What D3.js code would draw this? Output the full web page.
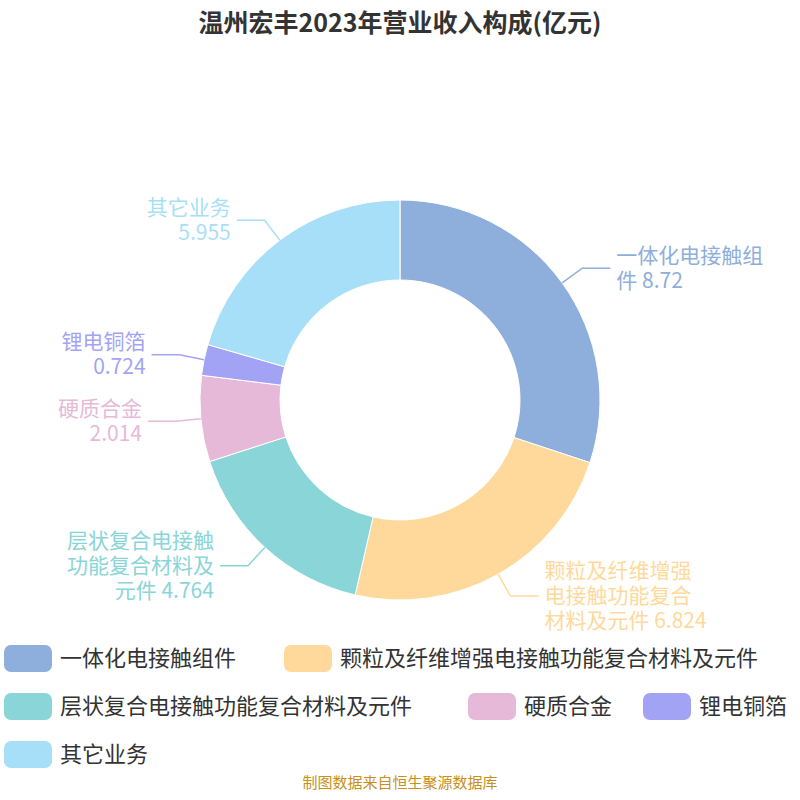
<!DOCTYPE html>
<html><head><meta charset="utf-8">
<script src="https://cdn.jsdelivr.net/npm/d3@7"></script>
<style>body{margin:0;background:#fff}</style></head>
<body><svg id="c" width="800" height="800"></svg>
<script>
const categories=["一体化电接触组件","颗粒及纤维增强电接触功能复合材料及元件","层状复合电接触功能复合材料及元件","硬质合金","锂电铜箔","其它业务"];
const values=[8.72,6.824,4.764,2.014,0.724,5.955];
const labelLines=[["一体化电接触组","件 8.72"],["颗粒及纤维增强","电接触功能复合","材料及元件 6.824"],["层状复合电接触","功能复合材料及","元件 4.764"],["硬质合金","2.014"],["锂电铜箔","0.724"],["其它业务","5.955"]];
const colors=["#8eaedb","#fed99b","#89d5d7","#e6b9d8","#a3a3f6","#a8dff8"];
const svg=d3.select("#c");
const F="'Noto Sans CJK SC','Noto Sans',sans-serif";
svg.append("text").attr("x",400).attr("y",32).attr("text-anchor","middle").attr("font-family",F)
 .attr("font-size",25).attr("font-weight","bold").attr("fill","#333").text("温州宏丰2023年营业收入构成(亿元)");
const cx=400,cy=400,R=200,r0=120;
const g=svg.append("g").attr("transform",`translate(${cx},${cy})`);
const pie=d3.pie().sort(null).value(d=>d)(values);
const arc=d3.arc().innerRadius(r0).outerRadius(R);
g.selectAll("path").data(pie).join("path").attr("d",arc).attr("fill",(d,i)=>colors[i]).attr("stroke","#fff").attr("stroke-width",1);
pie.forEach((d,i)=>{
 const a=(d.startAngle+d.endAngle)/2;
 const p1=[Math.sin(a)*R,-Math.cos(a)*R];
 const p2=[Math.sin(a)*(R+25),-Math.cos(a)*(R+25)];
 const right=Math.sin(a)>0;
 const p3=[p2[0]+(right?28:-28),p2[1]];
 g.append("polyline").attr("points",[p1,p2,p3].map(p=>p.join(",")).join(" "))
  .attr("fill","none").attr("stroke",colors[i]).attr("stroke-width",1.5);
 const lines=labelLines[i];
 const t=g.append("text").attr("font-family",F).attr("font-size",21).attr("fill",colors[i])
  .attr("text-anchor",right?"start":"end");
 lines.forEach((s,k)=>t.append("tspan").attr("x",p3[0]+(right?6:-6))
  .attr("y",p3[1]+7+(k-(lines.length-1)/2)*25).text(s));
});
const rows=[[0,1],[2,3,4],[5]];
const xs=[[4,284],[4,468,643],[4]];
rows.forEach((row,ri)=>row.forEach((i,k)=>{
 const x=xs[ri][k],y=658+ri*48;
 svg.append("rect").attr("x",x).attr("y",y-13).attr("width",48).attr("height",27).attr("rx",7).attr("fill",colors[i]);
 svg.append("text").attr("x",x+56).attr("y",y+8).attr("font-family",F).attr("font-size",22).attr("fill","#333").text(categories[i]);
}));
svg.append("text").attr("x",400).attr("y",788).attr("text-anchor","middle").attr("font-family",F)
 .attr("font-size",15).attr("fill","#c8901a").text("制图数据来自恒生聚源数据库");
</script></body></html>
